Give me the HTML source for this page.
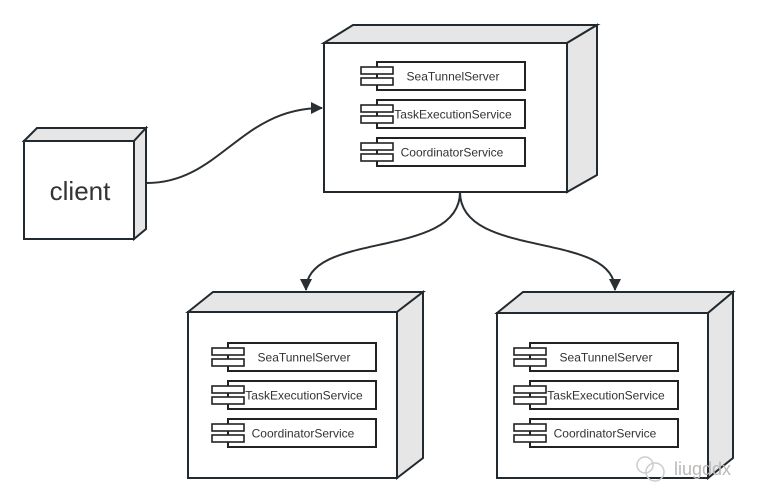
<!DOCTYPE html>
<html><head><meta charset="utf-8"><style>
html,body{margin:0;padding:0;background:#fff;}
svg{display:block;}
text{font-family:"Liberation Sans","Noto Sans CJK SC",sans-serif;fill:#333;}
</style></head><body>
<svg width="759" height="503" viewBox="0 0 759 503" xmlns="http://www.w3.org/2000/svg">
<defs>
<marker id="ar" markerWidth="12" markerHeight="12" refX="11" refY="6" orient="auto" markerUnits="userSpaceOnUse">
<path d="M0,0 L12,6 L0,12 z" fill="#2a2f33"/>
</marker>
<g id="comp">
<rect x="0" y="0" width="148" height="28" fill="#fff" stroke="#222" stroke-width="2"/>
<rect x="-16" y="5" width="32" height="7" fill="#fff" stroke="#222" stroke-width="1.6"/>
<rect x="-16" y="16" width="32" height="7" fill="#fff" stroke="#222" stroke-width="1.6"/>
</g>
</defs>
<g stroke="#222a30" stroke-width="2" stroke-linejoin="miter">
<polygon points="24,141 37,128 146,128 134,141" fill="#e6e6e6"/>
<polygon points="134,141 146,128 146,229 134,239" fill="#e6e6e6"/>
<rect x="24" y="141" width="110" height="98" fill="#fff"/>
<polygon points="324,43 353,25 597,25 567,43" fill="#e6e6e6"/>
<polygon points="567,43 597,25 597,175 567,192" fill="#e6e6e6"/>
<rect x="324" y="43" width="243" height="149" fill="#fff"/>
<polygon points="188,312 213,292 423,292 397,312" fill="#e6e6e6"/>
<polygon points="397,312 423,292 423,458 397,478" fill="#e6e6e6"/>
<rect x="188" y="312" width="209" height="166" fill="#fff"/>
<polygon points="497,313 523,292 733,292 708,313" fill="#e6e6e6"/>
<polygon points="708,313 733,292 733,458 708,478" fill="#e6e6e6"/>
<rect x="497" y="313" width="211" height="165" fill="#fff"/>
</g>
<g fill="none" stroke="#2a2f33" stroke-width="2">
<path d="M147,183 C220,183 240,108 322,108" marker-end="url(#ar)"/>
<path d="M460,192 C460,260 306,230 306,290" marker-end="url(#ar)"/>
<path d="M460,192 C460,260 615,230 615,290" marker-end="url(#ar)"/>
</g>
<text x="80" y="200" font-size="26" text-anchor="middle">client</text>
<use href="#comp" x="377" y="62"/><use href="#comp" x="377" y="100"/><use href="#comp" x="377" y="138"/>
<text x="453" y="80.5" font-size="12" text-anchor="middle">SeaTunnelServer</text>
<text x="453" y="118.5" font-size="12" text-anchor="middle">TaskExecutionService</text>
<text x="452" y="156.5" font-size="12" text-anchor="middle">CoordinatorService</text>
<use href="#comp" x="228" y="343"/><use href="#comp" x="228" y="381"/><use href="#comp" x="228" y="419"/>
<text x="304" y="361.5" font-size="12" text-anchor="middle">SeaTunnelServer</text>
<text x="304" y="399.5" font-size="12" text-anchor="middle">TaskExecutionService</text>
<text x="303" y="437.5" font-size="12" text-anchor="middle">CoordinatorService</text>
<use href="#comp" x="530" y="343"/><use href="#comp" x="530" y="381"/><use href="#comp" x="530" y="419"/>
<text x="606" y="361.5" font-size="12" text-anchor="middle">SeaTunnelServer</text>
<text x="606" y="399.5" font-size="12" text-anchor="middle">TaskExecutionService</text>
<text x="605" y="437.5" font-size="12" text-anchor="middle">CoordinatorService</text>
<g fill="none" stroke="#ccc" stroke-width="1.5">
<circle cx="645" cy="465" r="8"/><circle cx="655" cy="472" r="9"/>
</g>
<text x="674" y="475" font-size="18" style="fill:#b8b8b8">liugddx</text>
</svg>
</body></html>
